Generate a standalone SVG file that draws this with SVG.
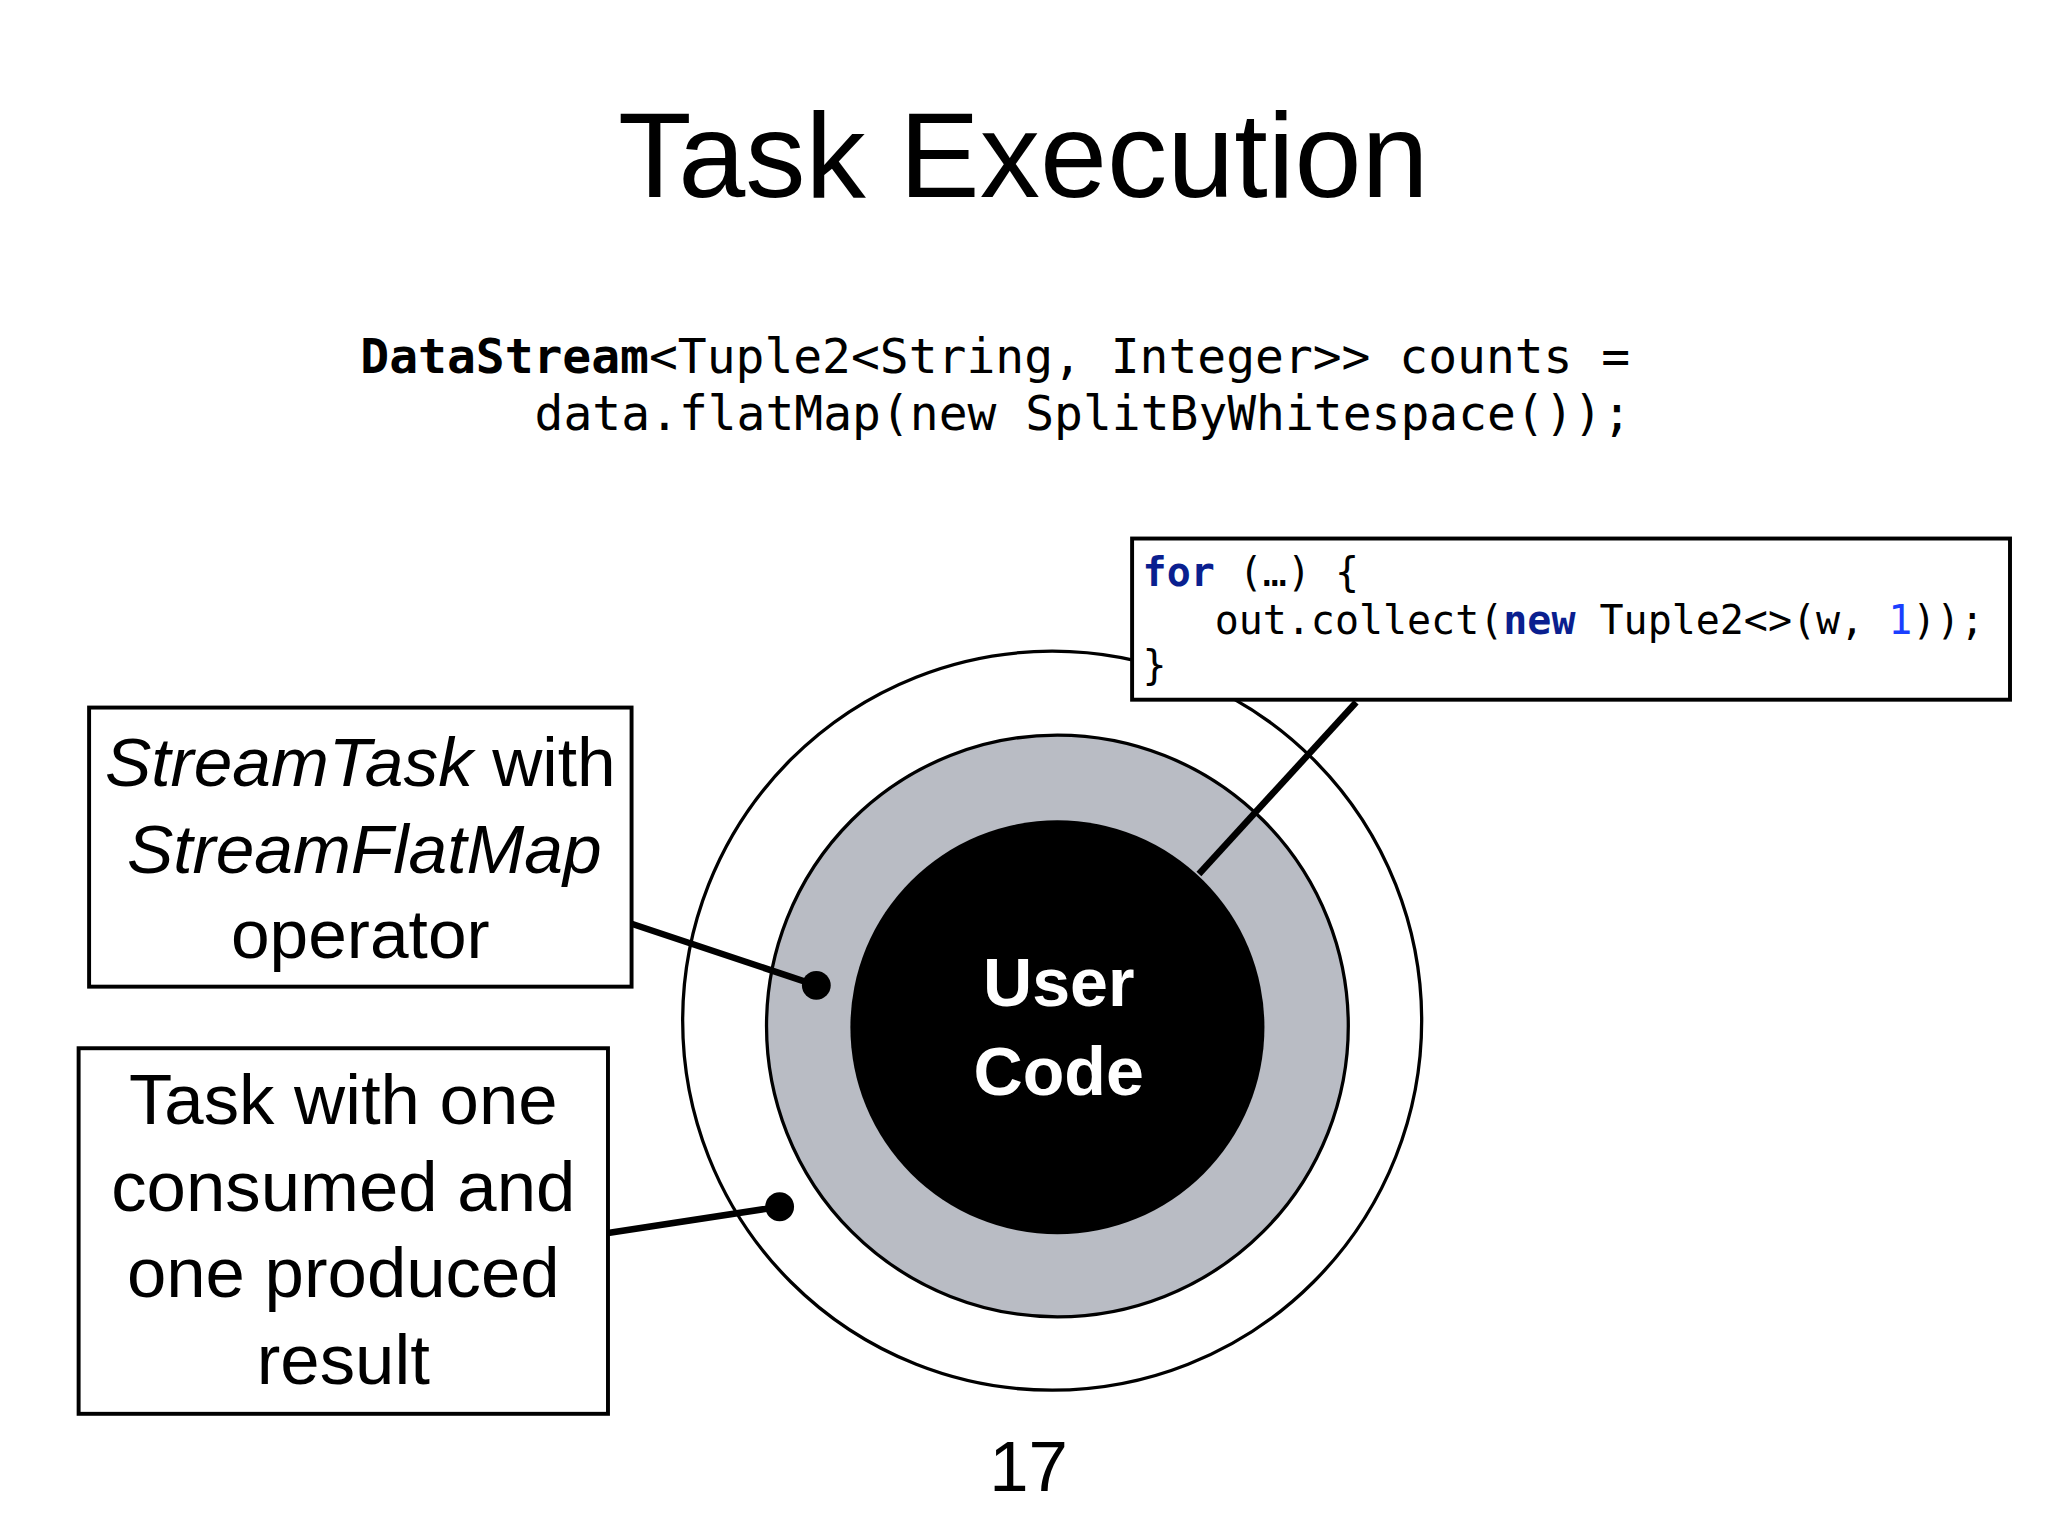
<svg xmlns="http://www.w3.org/2000/svg" width="2048" height="1536" viewBox="0 0 2048 1536">
<style>
.t{font-family:"Liberation Sans",Arial,sans-serif;fill:#000}
.m{font-family:"DejaVu Sans Mono","Liberation Mono",monospace;fill:#000}
.box{fill:#fff;stroke:#000;stroke-width:3}
.ln{stroke:#000;stroke-width:5;fill:none}
</style>
<rect width="2048" height="1536" fill="#fff"/>
<g transform="scale(1.3103)">
<text class="t" x="781" y="150" font-size="92" text-anchor="middle">Task Execution</text>
<text class="m" font-size="36.6" x="275" y="285"><tspan font-weight="bold">DataStream</tspan>&lt;Tuple2&lt;String, Integer&gt;&gt; counts =</text>
<text class="m" font-size="36.6" x="408" y="328">data.flatMap(new SplitByWhitespace());</text>
<g id="task">
<circle cx="803" cy="779" r="282" fill="#fff" stroke="#000" stroke-width="2.5"/>
</g>
<g id="operator">
<circle cx="807" cy="783" r="222" fill="#b9bcc4" stroke="#000" stroke-width="2.5"/>
</g>
<g id="usercode">
<circle cx="807" cy="784" r="158" fill="#000"/>
<text class="t" x="808" y="768" font-size="52" font-weight="bold" text-anchor="middle" style="fill:#fff">User</text>
<text class="t" x="808" y="836" font-size="52" font-weight="bold" text-anchor="middle" style="fill:#fff">Code</text>
</g>
<g id="connectors">
<line class="ln" x1="1035" y1="536" x2="915" y2="667"/>
<line class="ln" x1="482" y1="705" x2="623" y2="752"/>
<circle cx="623" cy="752" r="11" fill="#000"/>
<line class="ln" x1="464" y1="941" x2="595" y2="921"/>
<circle cx="595" cy="921" r="11" fill="#000"/>
</g>
<g id="codebox">
<rect class="box" x="864" y="411" width="670" height="123" stroke-width="2"/>
<text class="m" font-size="30.5" x="872" y="447"><tspan fill="#0a1f8f" font-weight="bold">for</tspan> (…) {</text>
<text class="m" font-size="30.5" x="927" y="484">out.collect(<tspan fill="#0a1f8f" font-weight="bold">new</tspan> Tuple2&lt;&gt;(w, <tspan fill="#1a3fff">1</tspan>));</text>
<text class="m" font-size="30.5" x="872" y="518">}</text>
</g>
<g id="label1">
<rect class="box" x="68" y="540" width="414" height="213"/>
<text class="t" x="275" y="600" font-size="53" text-anchor="middle"><tspan font-style="italic">StreamTask</tspan> with</text>
<text class="t" x="278" y="666" font-size="53" text-anchor="middle" font-style="italic">StreamFlatMap</text>
<text class="t" x="275" y="731" font-size="53" text-anchor="middle">operator</text>
</g>
<g id="label2">
<rect class="box" x="60" y="800" width="404" height="279"/>
<text class="t" x="262" y="858" font-size="54" text-anchor="middle">Task with one</text>
<text class="t" x="262" y="924" font-size="54" text-anchor="middle">consumed and</text>
<text class="t" x="262" y="990" font-size="54" text-anchor="middle">one produced</text>
<text class="t" x="262" y="1056" font-size="54" text-anchor="middle">result</text>
</g>
<text class="t" x="785" y="1138" font-size="54" text-anchor="middle">17</text>
</g>
</svg>
